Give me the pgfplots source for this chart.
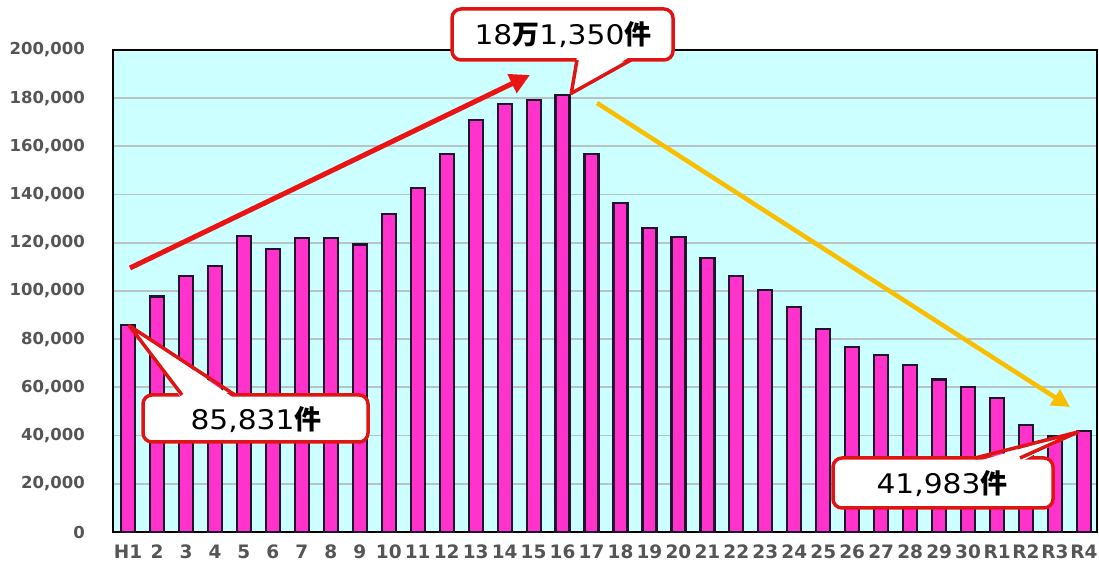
\documentclass[border=0pt]{standalone}
\usepackage{fontspec}
\setmainfont{DejaVu Sans}
\newfontfamily\cjk{Noto Sans CJK JP}
\newfontfamily\cfont{DejaVu Sans}[FakeStretch=1.1]
\usepackage{pgfplots}
\pgfplotsset{compat=1.18}
\usetikzlibrary{arrows.meta}
\definecolor{bgc}{RGB}{204,255,255}
\definecolor{gridc}{RGB}{185,195,195}
\definecolor{barc}{RGB}{255,51,204}
\definecolor{bard}{RGB}{30,20,45}
\definecolor{tickc}{RGB}{85,85,85}
\definecolor{cr}{RGB}{225,20,20}
\definecolor{ar}{RGB}{235,20,20}
\definecolor{ay}{RGB}{250,190,0}
\pgfplotstableread{
x y
0 85831
1 97700
2 106200
3 110300
4 122800
5 117500
6 121900
7 121900
8 119300
9 132000
10 142700
11 156900
12 170900
13 177700
14 179300
15 181350
16 156900
17 136400
18 126300
19 122400
20 113800
21 106200
22 100400
23 93200
24 84300
25 76700
26 73500
27 69400
28 63300
29 60100
30 55600
31 44500
32 39900
33 41983
}\datatable
\begin{document}
\begin{tikzpicture}
\path[use as bounding box] (-113pt,-35pt) rectangle (986pt,532pt);
\begin{axis}[
  scale only axis, width=984pt, height=482pt,
  xmin=-0.52, xmax=33.45, ymin=0, ymax=200000,
  ytick={0,20000,...,200000},
  xtick={0,...,33},
  xticklabels={H1,2,3,4,5,6,7,8,9,10,11,12,13,14,15,16,17,18,19,20,21,22,23,24,25,26,27,28,29,30,R1,R2,R3,R4},
  ybar, bar width=14pt,
  axis background/.style={fill=bgc},
  ymajorgrids, grid style={gridc, line width=1.8pt},
  axis line style={black, line width=1.5pt},
  major tick length=0pt,
  clip=false,
  scaled y ticks=false,
  /pgf/number format/.cd, 1000 sep={,}, assume math mode=true, fixed, /pgfplots/.cd,
  yticklabel style={anchor=east, inner sep=0pt, xshift=-28pt, text=tickc, font=\fontsize{16.5}{18}\selectfont\bfseries},
  xticklabel style={anchor=north, inner sep=0pt, yshift=-13pt, text=tickc, font=\fontsize{18.5}{20}\selectfont\bfseries},
]
\addplot[fill=barc, draw=bard, line width=2.2pt] table[x=x,y=y] {\datatable};
\coordinate (t1) at (axis cs:15.3,182000);
\coordinate (t2) at (axis cs:0.05,85500);
\coordinate (t3) at (axis cs:32.8,41500);
\end{axis}
\begin{scope}[x=1pt,y=-1pt,shift={(-113pt,532pt)}]
  % trend arrows
  \draw[ar, line width=5pt, -{Triangle[length=20pt,width=20pt]}] (130,268) -- (530,75);
  \draw[ay, line width=4.5pt, -{Triangle[length=18pt,width=18pt]}] (597,103) -- (1070,407);
  % callout 1
  \draw[cr, line width=3.5pt, fill=white, rounded corners=9pt] (452,9) rectangle (673,60);
  \fill[white] (577,56) -- (t1) -- (631,56) -- cycle;
  \draw[cr, line width=3.5pt, line join=round] (577,60) -- (t1) -- (631,60);
  \node at (563,35) {\cfont\fontsize{27}{27}\selectfont 18{\cjk\bfseries 万}1,350{\cjk\bfseries 件}};
  % callout 2
  \draw[cr, line width=3.5pt, fill=white, rounded corners=9pt] (143,395) rectangle (368,442);
  \fill[white] (182,399) -- (t2) -- (235,399) -- cycle;
  \draw[cr, line width=3.5pt, line join=round] (182,395) -- (t2) -- (235,395);
  \node at (256,420) {\cfont\fontsize{27}{27}\selectfont 85,831{\cjk\bfseries 件}};
  % callout 3
  \draw[cr, line width=3.5pt, fill=white, rounded corners=9pt] (833,458) rectangle (1053,508);
  \fill[white] (975,462) -- (t3) -- (1020,462) -- cycle;
  \draw[cr, line width=3.5pt, line join=round] (975,458) -- (t3) -- (1020,458);
  \node at (942,484) {\cfont\fontsize{27}{27}\selectfont 41,983{\cjk\bfseries 件}};
\end{scope}
\end{tikzpicture}
\end{document}
